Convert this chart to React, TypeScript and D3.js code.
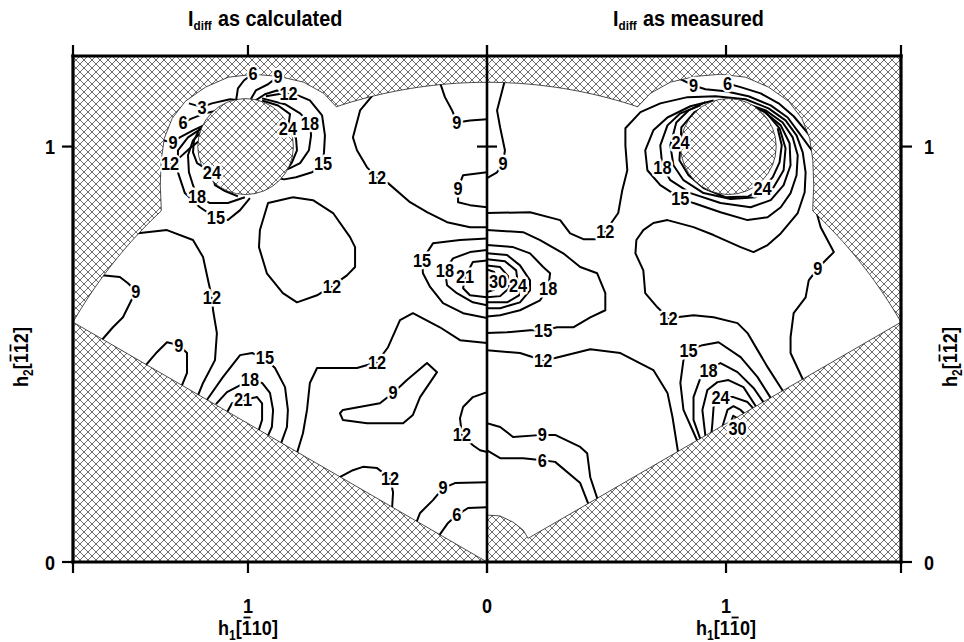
import React from 'react';
import * as d3 from 'd3';

type P = [number, number];
interface Contour { v: number; p: P[] }

const S3 = Math.sqrt(3);
const xMax = S3;
const yMax = 1.218;
const xTicks = [0, 1];
const yTicks = [0, 1];

// measured area: h1^2 + 3 h2^2 <= 4, above h2 = h1/3, plus a bulge round the hole
const regionRadius = 2;
const holeCenter: P = [1.01, 1.0];
const holeRadius = 0.2;
const bumpEdge: P[] = [
  [1.363, 0.854], [1.367, 0.907], [1.363, 0.967], [1.35, 1.02], [1.317, 1.068], [1.262, 1.109],
  [1.178, 1.143], [1.082, 1.167], [0.977, 1.174], [0.872, 1.169], [0.767, 1.155], [0.683, 1.128], [0.629, 1.095],
];
const originNotch: P[] = [[0, 0.113], [0.054, 0.111], [0.109, 0.096], [0.151, 0.077], [0.172, 0.057]];

// I_diff as calculated (h1 along [-110])
const calcLines: Contour[] = [
  { v: 12, p: [[1.47, 0.791], [1.339, 0.799], [1.23, 0.775], [1.188, 0.734], [1.167, 0.678], [1.151, 0.637], [1.146, 0.606], [1.13, 0.551], [1.138, 0.486], [1.188, 0.431], [1.21, 0.4]] },
  { v: 9, p: [[1.61, 0.69], [1.536, 0.686], [1.502, 0.671], [1.469, 0.652], [1.494, 0.623], [1.523, 0.589], [1.565, 0.565], [1.615, 0.532]] },
  { v: 9, p: [[1.43, 0.472], [1.381, 0.505], [1.339, 0.529], [1.289, 0.522], [1.255, 0.503], [1.255, 0.455], [1.28, 0.42]] },
  { v: 15, p: [[1.172, 0.39], [1.105, 0.445], [1.033, 0.498], [0.983, 0.503], [0.929, 0.491], [0.887, 0.467], [0.845, 0.421], [0.833, 0.366], [0.837, 0.325], [0.862, 0.285]] },
  { v: 18, p: [[1.134, 0.38], [1.088, 0.409], [0.992, 0.438], [0.941, 0.431], [0.908, 0.407], [0.895, 0.366], [0.9, 0.325], [0.918, 0.302]] },
  { v: 21, p: [[1.088, 0.36], [1.067, 0.382], [1.021, 0.39], [0.962, 0.397], [0.941, 0.382], [0.941, 0.342], [0.956, 0.315]] },
  { v: 12, p: [[0.812, 0.878], [0.728, 0.871], [0.644, 0.84], [0.573, 0.782], [0.552, 0.758], [0.552, 0.71], [0.586, 0.69], [0.649, 0.664], [0.711, 0.642], [0.795, 0.625], [0.854, 0.647], [0.921, 0.695], [0.954, 0.758], [0.95, 0.799], [0.916, 0.864], [0.812, 0.878]] },
  { v: 12, p: [[0.469, 1.13], [0.531, 1.087], [0.561, 1.022], [0.544, 0.991], [0.502, 0.95], [0.46, 0.926], [0.414, 0.912], [0.322, 0.866], [0.251, 0.842], [0.167, 0.818], [0.071, 0.806], [0, 0.806]] },
  { v: 9, p: [[0.2, 1.16], [0.176, 1.119], [0.146, 1.087], [0.126, 1.058], [0.071, 1.063], [0, 1.066]] },
  { v: 9, p: [[0, 0.938], [0.1, 0.931], [0.121, 0.9], [0.121, 0.866], [0.071, 0.859], [0, 0.854]] },
  { v: 15, p: [[0, 0.779], [0.113, 0.775], [0.226, 0.767], [0.272, 0.726], [0.268, 0.695], [0.238, 0.662], [0.184, 0.623], [0.1, 0.599], [0, 0.587]] },
  { v: 18, p: [[0, 0.751], [0.071, 0.746], [0.142, 0.731], [0.176, 0.702], [0.167, 0.666], [0.126, 0.647], [0.059, 0.625], [0, 0.618]] },
  { v: 21, p: [[0, 0.726], [0.059, 0.722], [0.092, 0.686], [0.1, 0.659], [0.071, 0.642], [0, 0.637]] },
  { v: 12, p: [[0, 0.527], [0.113, 0.534], [0.197, 0.565], [0.31, 0.599], [0.364, 0.582], [0.414, 0.517], [0.46, 0.481], [0.544, 0.467], [0.711, 0.467], [0.741, 0.431], [0.753, 0.366], [0.77, 0.31], [0.795, 0.262]] },
  { v: 9, p: [[0.335, 0.438], [0.251, 0.479], [0.209, 0.457], [0.28, 0.397], [0.31, 0.354], [0.351, 0.334], [0.502, 0.334], [0.603, 0.342], [0.615, 0.358], [0.603, 0.366], [0.448, 0.382], [0.393, 0.407], [0.335, 0.438]] },
  { v: 12, p: [[0, 0.409], [0.059, 0.397], [0.1, 0.373], [0.113, 0.346], [0.105, 0.306], [0.059, 0.281], [0.029, 0.269], [0, 0.265]] },
  { v: 12, p: [[0.62, 0.203], [0.561, 0.221], [0.519, 0.229], [0.46, 0.226], [0.406, 0.202], [0.393, 0.168], [0.397, 0.13]] },
  { v: 9, p: [[0, 0.192], [0.134, 0.19], [0.184, 0.178], [0.226, 0.149], [0.28, 0.118], [0.295, 0.096]] },
  { v: 6, p: [[0, 0.132], [0.079, 0.13], [0.126, 0.113], [0.163, 0.094], [0.2, 0.064]] },
  // around the hole
  { v: 3, p: [[1.247, 1.104], [1.192, 1.095], [1.151, 1.104], [1.075, 1.114], [1.02, 1.11]] },
  { v: 6, p: [[1.272, 1.058], [1.234, 1.068], [1.18, 1.08], [1.14, 1.085]] },
  { v: 6, p: [[0.979, 1.176], [1.017, 1.159], [1.042, 1.14], [1.05, 1.11]] },
  { v: 9, p: [[1.356, 1.015], [1.314, 1.01], [1.285, 1.022], [1.23, 1.039], [1.17, 1.055]] },
  { v: 9, p: [[0.874, 1.169], [0.916, 1.15], [0.967, 1.135], [0.992, 1.11]] },
  { v: 12, p: [[0.83, 1.128], [0.879, 1.135], [0.929, 1.126], [0.971, 1.11]] },
  { v: 12, p: [[1.326, 0.96], [1.285, 0.974], [1.243, 0.996], [1.19, 1.02]] },
  { v: 24, p: [[0.941, 1.111], [0.874, 1.099], [0.824, 1.078], [0.833, 1.044], [0.799, 1.02], [0.795, 0.991], [0.816, 0.962], [0.833, 0.948]] },
  { v: 18, p: [[0.941, 1.116], [0.845, 1.102], [0.782, 1.08], [0.741, 1.056], [0.736, 1.027], [0.745, 0.991], [0.782, 0.96], [0.824, 0.948], [0.86, 0.94]] },
  { v: 15, p: [[0.925, 1.121], [0.824, 1.131], [0.741, 1.111], [0.69, 1.075], [0.678, 1.027], [0.682, 0.986], [0.686, 0.96], [0.732, 0.938], [0.799, 0.926], [0.849, 0.921], [0.88, 0.925]] },
  { v: 24, p: [[1.201, 1.044], [1.226, 1.015], [1.23, 0.986], [1.213, 0.96], [1.151, 0.938], [1.138, 0.907], [1.096, 0.893], [1.042, 0.88]] },
  { v: 18, p: [[1.18, 1.044], [1.23, 1.015], [1.251, 0.979], [1.247, 0.938], [1.23, 0.907], [1.213, 0.88], [1.159, 0.864], [1.084, 0.864], [1.013, 0.878]] },
  { v: 15, p: [[1.188, 1.046], [1.251, 1.022], [1.293, 0.991], [1.293, 0.938], [1.264, 0.888], [1.201, 0.854], [1.134, 0.828], [1.084, 0.823], [1.033, 0.847], [0.992, 0.876]] },
];

const calcLabels: [string, number, number][] = [
  ['12', 1.151, 0.637], ['9', 1.469, 0.652], ['9', 1.289, 0.522], ['15', 0.929, 0.491], ['18', 0.992, 0.438],
  ['21', 1.021, 0.39], ['12', 0.649, 0.664], ['12', 0.46, 0.926], ['9', 0.126, 1.058], ['9', 0.121, 0.9], ['15', 0.272, 0.726],
  ['18', 0.176, 0.702], ['21', 0.092, 0.686], ['12', 0.46, 0.481], ['9', 0.393, 0.407], ['12', 0.105, 0.306],
  ['12', 0.406, 0.202], ['9', 0.184, 0.178], ['6', 0.126, 0.113],
  ['3', 1.192, 1.095], ['6', 1.272, 1.058], ['6', 0.979, 1.176], ['9', 1.314, 1.01], ['9', 0.874, 1.169],
  ['12', 0.83, 1.128], ['12', 1.326, 0.96], ['24', 0.833, 1.044], ['18', 0.741, 1.056], ['15', 0.686, 0.96],
  ['24', 1.151, 0.938], ['18', 1.213, 0.88], ['15', 1.134, 0.828],
];

// I_diff as measured (h1 along [1-10])
const measLines: Contour[] = [
  { v: 9, p: [[0.075, 1.16], [0.042, 1.087], [0.055, 1.046], [0.075, 0.991], [0.067, 0.96], [0.042, 0.938], [0, 0.924]] },
  { v: 12, p: [[0, 0.84], [0.18, 0.842], [0.306, 0.823], [0.348, 0.791], [0.403, 0.777], [0.453, 0.777], [0.495, 0.796], [0.549, 0.84], [0.566, 0.895], [0.587, 0.943], [0.579, 1.003], [0.579, 1.044], [0.642, 1.083], [0.725, 1.104], [0.839, 1.119], [0.956, 1.121], [1.082, 1.114], [1.178, 1.092], [1.249, 1.063], [1.295, 1.027], [1.321, 0.986], [1.333, 0.938], [1.329, 0.89], [1.3, 0.84], [1.229, 0.791], [1.174, 0.763], [1.115, 0.746], [1.061, 0.758], [0.948, 0.787], [0.864, 0.806], [0.755, 0.823], [0.696, 0.816], [0.654, 0.799], [0.625, 0.775], [0.621, 0.743], [0.654, 0.702], [0.662, 0.647], [0.713, 0.613], [0.759, 0.587], [0.864, 0.594], [0.948, 0.589], [1.048, 0.575], [1.09, 0.551], [1.132, 0.51], [1.174, 0.469], [1.24, 0.41]] },
  { v: 9, p: [[1.37, 0.86], [1.396, 0.806], [1.451, 0.746], [1.42, 0.728], [1.384, 0.707], [1.346, 0.678], [1.333, 0.637], [1.283, 0.599], [1.27, 0.541], [1.27, 0.503], [1.325, 0.435]] },
  { v: 6, p: [[1.006, 1.152], [1.061, 1.143], [1.145, 1.128], [1.22, 1.104], [1.283, 1.073], [1.36, 1.02]] },
  { v: 9, p: [[0.79, 1.168], [0.864, 1.147], [0.914, 1.138], [0.998, 1.133], [1.094, 1.121], [1.187, 1.099], [1.258, 1.07], [1.304, 1.034], [1.36, 0.99]] },
  { v: 15, p: [[0.948, 1.111], [0.851, 1.097], [0.755, 1.07], [0.696, 1.039], [0.662, 0.991], [0.671, 0.943], [0.725, 0.907], [0.809, 0.876], [0.864, 0.864], [0.977, 0.842], [1.09, 0.823], [1.174, 0.83], [1.229, 0.854], [1.27, 0.888], [1.295, 0.931], [1.3, 0.979], [1.279, 1.022], [1.237, 1.058], [1.166, 1.087], [1.082, 1.104]] },
  { v: 18, p: [[0.893, 1.099], [0.809, 1.08], [0.755, 1.051], [0.725, 1.003], [0.734, 0.95], [0.767, 0.919], [0.851, 0.888], [0.977, 0.864], [1.103, 0.854], [1.187, 0.871], [1.241, 0.907], [1.27, 0.955], [1.266, 1.008], [1.229, 1.051], [1.153, 1.087], [1.069, 1.104]] },
  { v: 21, p: [[0.914, 1.107], [0.843, 1.087], [0.792, 1.058], [0.767, 1.003], [0.78, 0.955], [0.822, 0.919], [0.906, 0.888], [1.019, 0.874], [1.124, 0.878], [1.199, 0.902], [1.241, 0.943], [1.249, 0.996], [1.224, 1.044], [1.166, 1.083], [1.082, 1.102]] },
  { v: 24, p: [[0.943, 1.104], [0.868, 1.083], [0.813, 1.046], [0.81, 1.01], [0.805, 0.967], [0.843, 0.931], [0.906, 0.9], [0.998, 0.878], [1.094, 0.88], [1.153, 0.9], [1.195, 0.926], [1.224, 0.962], [1.233, 1.003], [1.216, 1.044]] },
  { v: 15, p: [[0.881, 0.29], [0.822, 0.366], [0.809, 0.431], [0.822, 0.486], [0.843, 0.51], [0.901, 0.522], [0.969, 0.529], [1.061, 0.493], [1.132, 0.445], [1.19, 0.392]] },
  { v: 18, p: [[0.893, 0.295], [0.864, 0.342], [0.864, 0.397], [0.893, 0.443], [0.927, 0.462], [0.977, 0.479], [1.048, 0.457], [1.115, 0.419], [1.16, 0.382]] },
  { v: 21, p: [[0.914, 0.302], [0.901, 0.366], [0.922, 0.414], [0.964, 0.433], [1.01, 0.438], [1.073, 0.421], [1.128, 0.372]] },
  { v: 24, p: [[0.939, 0.31], [0.943, 0.334], [0.948, 0.373], [0.977, 0.397], [1.031, 0.397], [1.09, 0.385], [1.115, 0.369]] },
  { v: 27, p: [[0.985, 0.326], [1.006, 0.366], [1.031, 0.375], [1.061, 0.366], [1.08, 0.355]] },
  { v: 30, p: [[1.02, 0.337], [1.03, 0.352], [1.05, 0.345]] },
  { v: 15, p: [[0, 0.799], [0.151, 0.794], [0.222, 0.775], [0.319, 0.743], [0.39, 0.71], [0.461, 0.695], [0.495, 0.647], [0.495, 0.606], [0.432, 0.589], [0.361, 0.565], [0.294, 0.565], [0.235, 0.558], [0.18, 0.558], [0.084, 0.553], [0, 0.551]] },
  { v: 18, p: [[0, 0.763], [0.109, 0.758], [0.18, 0.743], [0.235, 0.71], [0.264, 0.695], [0.256, 0.659], [0.222, 0.63], [0.138, 0.606], [0.055, 0.594], [0, 0.591]] },
  { v: 21, p: [[0, 0.743], [0.084, 0.739], [0.138, 0.714], [0.18, 0.678], [0.18, 0.654], [0.138, 0.625], [0.055, 0.611], [0, 0.611]] },
  { v: 24, p: [[0, 0.729], [0.075, 0.724], [0.122, 0.702], [0.13, 0.666], [0.134, 0.642], [0.084, 0.625], [0, 0.625]] },
  { v: 27, p: [[0, 0.714], [0.055, 0.71], [0.088, 0.688], [0.092, 0.659], [0.055, 0.64], [0, 0.637]] },
  { v: 30, p: [[0, 0.704], [0.03, 0.698], [0.046, 0.674], [0.03, 0.655], [0, 0.65]] },
  { v: 12, p: [[0, 0.51], [0.138, 0.503], [0.193, 0.493], [0.235, 0.486], [0.285, 0.491], [0.432, 0.512], [0.558, 0.503], [0.696, 0.462], [0.755, 0.407], [0.776, 0.349], [0.8, 0.262]] },
  { v: 9, p: [[0, 0.334], [0.055, 0.325], [0.109, 0.301], [0.231, 0.306], [0.285, 0.306], [0.39, 0.277], [0.419, 0.262], [0.432, 0.204], [0.463, 0.15]] },
  { v: 6, p: [[0, 0.269], [0.055, 0.25], [0.151, 0.25], [0.231, 0.245], [0.285, 0.241], [0.39, 0.19], [0.425, 0.138]] },
];

const measLabels: [string, number, number][] = [
  ['9', 0.067, 0.96], ['12', 0.495, 0.796], ['12', 0.759, 0.587], ['9', 1.384, 0.707], ['9', 0.864, 1.147],
  ['6', 1.006, 1.152], ['15', 0.809, 0.876], ['18', 0.734, 0.95], ['24', 0.81, 1.01], ['24', 1.153, 0.9],
  ['15', 0.843, 0.51], ['18', 0.927, 0.462], ['24', 0.977, 0.397], ['30', 1.048, 0.322], ['15', 0.235, 0.558],
  ['18', 0.256, 0.659], ['24', 0.13, 0.666], ['30', 0.046, 0.674], ['12', 0.235, 0.486], ['9', 0.231, 0.306],
  ['6', 0.231, 0.245],
];

const FONT = "'Liberation Sans', Arial, sans-serif";
const NARROW = 0.86;

const deg = (a: number) => (a * Math.PI) / 180;
function arcPts(t0: number, t1: number): P[] {
  // boundary of the measured area, h1 = 2cos t, h2 = 2/sqrt3 sin t
  return d3.range(0, 21).map(i => {
    const t = deg(t0 + ((t1 - t0) * i) / 20);
    return [regionRadius * Math.cos(t), (regionRadius / S3) * Math.sin(t)] as P;
  });
}

// Miller-index axis title, e.g. h1[-110]; bars are drawn by hand over the barred digits
function MillerTitle({ x, y, rot, sub, digits }: { x: number; y: number; rot: number; sub: string; digits: [string, boolean][] }) {
  const fs = 21, fsSub = 14;
  const wH = 0.611 * fs, wSub = 0.556 * fsSub, wBr = 0.333 * fs, wD = 0.556 * fs;
  const total = wH + wSub + 2 * wBr + digits.length * wD;
  const cx = wH + wSub + wBr;
  return (
    <g transform={`translate(${x},${y}) rotate(${rot}) scale(${NARROW},1) translate(${-total / 2},0)`}
      style={{ fontFamily: FONT, fontWeight: 700 }} fill="#000">
      <text x={0} y={0} fontSize={fs}>h</text>
      <text x={wH} y={5} fontSize={fsSub}>{sub}</text>
      <text x={wH + wSub} y={0} fontSize={fs}>[</text>
      {digits.map(([d, bar], i) => {
        const px = cx + i * wD;
        return (
          <g key={i}>
            <text x={px} y={0} fontSize={fs}>{d}</text>
            {bar && <line x1={px + 2} x2={px + wD - 1.5} y1={-17.5} y2={-17.5} stroke="#000" strokeWidth={1.8} />}
          </g>
        );
      })}
      <text x={cx + digits.length * wD} y={0} fontSize={fs}>]</text>
    </g>
  );
}

export default function App() {
  const y = d3.scaleLinear().domain([0, yMax]).range([562, 56]);
  const xL = d3.scaleLinear().domain([0, xMax]).range([487, 73]);
  const xR = d3.scaleLinear().domain([0, xMax]).range([487, 901]);

  const tA = Math.acos(bumpEdge[0][0] / regionRadius) * 180 / Math.PI;
  const tB = Math.acos(bumpEdge[bumpEdge.length - 1][0] / regionRadius) * 180 / Math.PI;
  const upper: P[] = [...arcPts(30, tA), ...bumpEdge, ...arcPts(tB, 90)];
  const regionL: P[] = [[0, 0], [S3, 1 / S3], ...upper];
  const regionR: P[] = [...originNotch, [S3, 1 / S3], ...upper];

  const lineL = d3.line<P>().x(d => xL(d[0])).y(d => y(d[1]));
  const lineR = d3.line<P>().x(d => xR(d[0])).y(d => y(d[1]));

  const holePath = (x: d3.ScaleLinear<number, number>) => {
    const cx = x(holeCenter[0]);
    const cy = y(holeCenter[1]);
    const rx = Math.abs(x(holeCenter[0] + holeRadius) - cx);
    const ry = cy - y(holeCenter[1] + holeRadius / S3);
    return `M${cx - rx},${cy}a${rx},${ry} 0 1,0 ${2 * rx},0a${rx},${ry} 0 1,0 ${-2 * rx},0Z`;
  };

  const pathL = lineL(regionL) + 'Z';
  const pathR = lineR(regionR) + 'Z';
  const holeL = holePath(xL);
  const holeR = holePath(xR);

  const x0 = 73, x1 = 901, yTop = y(yMax), yBot = y(0), xc = xL(0);

  const labelStyle = {
    fontFamily: FONT, fontWeight: 700, fontSize: 19, fill: '#000',
    stroke: '#fff', strokeWidth: 5, paintOrder: 'stroke' as const, strokeLinejoin: 'round' as const,
  };
  const axisText = { fontFamily: FONT, fontWeight: 700, fill: '#000' };

  const label = (t: string, px: number, py: number, key: string) => (
    <g key={key} transform={`translate(${px},${py}) scale(${NARROW},1)`}>
      <text x={0} y={0} textAnchor="middle" dominantBaseline="central" style={labelStyle}>{t}</text>
    </g>
  );
  const plain = (t: string, px: number, py: number, key: string, fs = 21) => (
    <g key={key} transform={`translate(${px},${py}) scale(${NARROW},1)`}>
      <text x={0} y={0} textAnchor="middle" dominantBaseline="central" fontSize={fs} style={axisText}>{t}</text>
    </g>
  );

  return (
    <svg width={964} height={642} style={{ position: 'absolute', left: 0, top: 0, background: '#fff' }}>
      <defs>
        <pattern id="hatch" width={8} height={8} patternUnits="userSpaceOnUse">
          <path d="M-2,2L2,-2M0,8L8,0M6,10L10,6M-2,6L2,10M0,0L8,8M6,-2L10,2" stroke="#3c3c3c" strokeWidth={0.75} />
        </pattern>
        <clipPath id="clipL"><path d={pathL + holeL} clipRule="evenodd" /></clipPath>
        <clipPath id="clipR"><path d={pathR + holeR} clipRule="evenodd" /></clipPath>
      </defs>

      <rect x={x0} y={yTop} width={x1 - x0} height={yBot - yTop} fill="url(#hatch)" />
      <path d={pathL} fill="#fff" stroke="#222" strokeWidth={0.8} />
      <path d={pathR} fill="#fff" stroke="#222" strokeWidth={0.8} />
      <path d={holeL} fill="url(#hatch)" stroke="#222" strokeWidth={0.8} />
      <path d={holeR} fill="url(#hatch)" stroke="#222" strokeWidth={0.8} />

      <g clipPath="url(#clipL)" fill="none" stroke="#000" strokeWidth={2} strokeLinejoin="round">
        {calcLines.map((c, i) => <path key={i} d={lineL(c.p) || ''} />)}
      </g>
      <g clipPath="url(#clipR)" fill="none" stroke="#000" strokeWidth={2} strokeLinejoin="round">
        {measLines.map((c, i) => <path key={i} d={lineR(c.p) || ''} />)}
      </g>

      <g>
        {calcLabels.map(([t, a, b], i) => label(t, xL(a), y(b), 'l' + i))}
        {measLabels.map(([t, a, b], i) => label(t, xR(a), y(b), 'r' + i))}
      </g>

      {/* frame */}
      <g stroke="#000" strokeLinecap="square">
        <line x1={x0} x2={x1} y1={yTop} y2={yTop} strokeWidth={3.2} />
        <line x1={x0} x2={x1} y1={yBot} y2={yBot} strokeWidth={3.2} />
        <line x1={x0} x2={x0} y1={yTop} y2={yBot} strokeWidth={3.2} />
        <line x1={x1} x2={x1} y1={yTop} y2={yBot} strokeWidth={3.2} />
        <line x1={xc} x2={xc} y1={yTop} y2={yBot} strokeWidth={2.6} />
      </g>
      <g stroke="#000" strokeWidth={2.2}>
        {[xL(xMax), ...xTicks.map(t => xL(t)), ...xTicks.map(t => xR(t)), xR(xMax)].map((px, i) => (
          <g key={'xt' + i}>
            <line x1={px} x2={px} y1={yTop} y2={yTop - 11} />
            <line x1={px} x2={px} y1={yBot} y2={yBot + 11} />
          </g>
        ))}
        {yTicks.map(t => (
          <g key={'yt' + t}>
            <line x1={x0} x2={x0 - 11} y1={y(t)} y2={y(t)} />
            <line x1={x1} x2={x1 + 11} y1={y(t)} y2={y(t)} />
          </g>
        ))}
        <line x1={xc - 10} x2={xc + 10} y1={y(1)} y2={y(1)} />
      </g>

      {/* tick labels */}
      {plain('1', xL(1), 605, 'tx1')}
      {plain('0', xL(0), 605, 'tx0')}
      {plain('1', xR(1), 605, 'tx2')}
      {yTicks.map(t => plain(String(t), 50, y(t), 'tyl' + t))}
      {yTicks.map(t => plain(String(t), 929, y(t), 'tyr' + t))}

      {/* axis titles */}
      <MillerTitle x={xL(1)} y={635} rot={0} sub="1" digits={[['1', true], ['1', false], ['0', false]]} />
      <MillerTitle x={xR(1)} y={635} rot={0} sub="1" digits={[['1', false], ['1', true], ['0', false]]} />
      <MillerTitle x={28} y={357} rot={-90} sub="2" digits={[['1', true], ['1', true], ['2', false]]} />
      <MillerTitle x={957} y={357} rot={-90} sub="2" digits={[['1', true], ['1', true], ['2', false]]} />

      {/* panel titles */}
      <g transform={`translate(188,26) scale(0.9,1)`} style={axisText}>
        <text x={0} y={0} fontSize={22}>I<tspan fontSize={13} dy={4}>diff</tspan><tspan dy={-4} dx={7}>as calculated</tspan></text>
      </g>
      <g transform={`translate(613,26) scale(0.9,1)`} style={axisText}>
        <text x={0} y={0} fontSize={22}>I<tspan fontSize={13} dy={4}>diff</tspan><tspan dy={-4} dx={7}>as measured</tspan></text>
      </g>
    </svg>
  );
}
